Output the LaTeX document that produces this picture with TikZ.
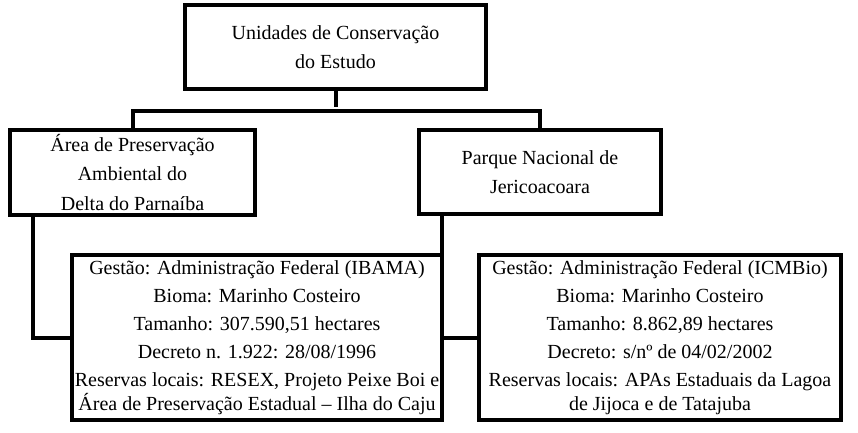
\documentclass[tikz,border=0pt]{standalone}
\usepackage{fontspec}
\setmainfont{Liberation Serif}
\usetikzlibrary{calc}
\begin{document}
\begin{tikzpicture}[x=1pt,y=1pt,
  boxstyle/.style={draw=black, line width=4pt, rectangle, inner sep=0pt, outer sep=0pt, align=center, fill=white},
  link/.style={draw=black, line width=4pt}]
\useasboundingbox[fill=white] (0,0) rectangle (858,-432);
\node[boxstyle, minimum width=301pt, minimum height=84pt, font=\fontsize{20}{29}\selectfont] (top) at (335.5,-47)
  {Unidades de Conservação\\do Estudo};
\node[boxstyle, minimum width=245pt, minimum height=85pt, font=\fontsize{20}{29.5}\selectfont] (apa) at (132.5,-172.5)
  {Área de Preservação\\Ambiental do\\Delta do Parnaíba};
\node[boxstyle, minimum width=242pt, minimum height=84pt, font=\fontsize{20}{29}\selectfont] (pnj) at (540,-172)
  {Parque Nacional de\\Jericoacoara};
\node[boxstyle, minimum width=370pt, minimum height=165pt, font=\fontsize{20}{24}\selectfont] (lb) at (257,-337.5)
  {Gestão: Administração Federal (IBAMA)\\[4pt]Bioma: Marinho Costeiro\\[4pt]Tamanho: 307.590,51 hectares\\[4pt]Decreto n. 1.922: 28/08/1996\\[4pt]Reservas locais: RESEX, Projeto Peixe Boi e\\Área de Preservação Estadual – Ilha do Caju};
\node[boxstyle, minimum width=362pt, minimum height=165pt, font=\fontsize{20}{24}\selectfont] (rb) at (660,-337.5)
  {Gestão: Administração Federal (ICMBio)\\[4pt]Bioma: Marinho Costeiro\\[4pt]Tamanho: 8.862,89 hectares\\[4pt]Decreto: s/nº de 04/02/2002\\[4pt]Reservas locais: APAs Estaduais da Lagoa\\de Jijoca e de Tatajuba};
\draw[link] (top.south) -- ++(0,-18);
\draw[link] (apa.north) -- ++(0,19) -| (pnj.north);
\draw[link] ($(apa.south west)+(23,0)$) |- (lb.west);
\draw[link] (pnj.south -| lb.east) |- (rb.west);
\end{tikzpicture}
\end{document}
